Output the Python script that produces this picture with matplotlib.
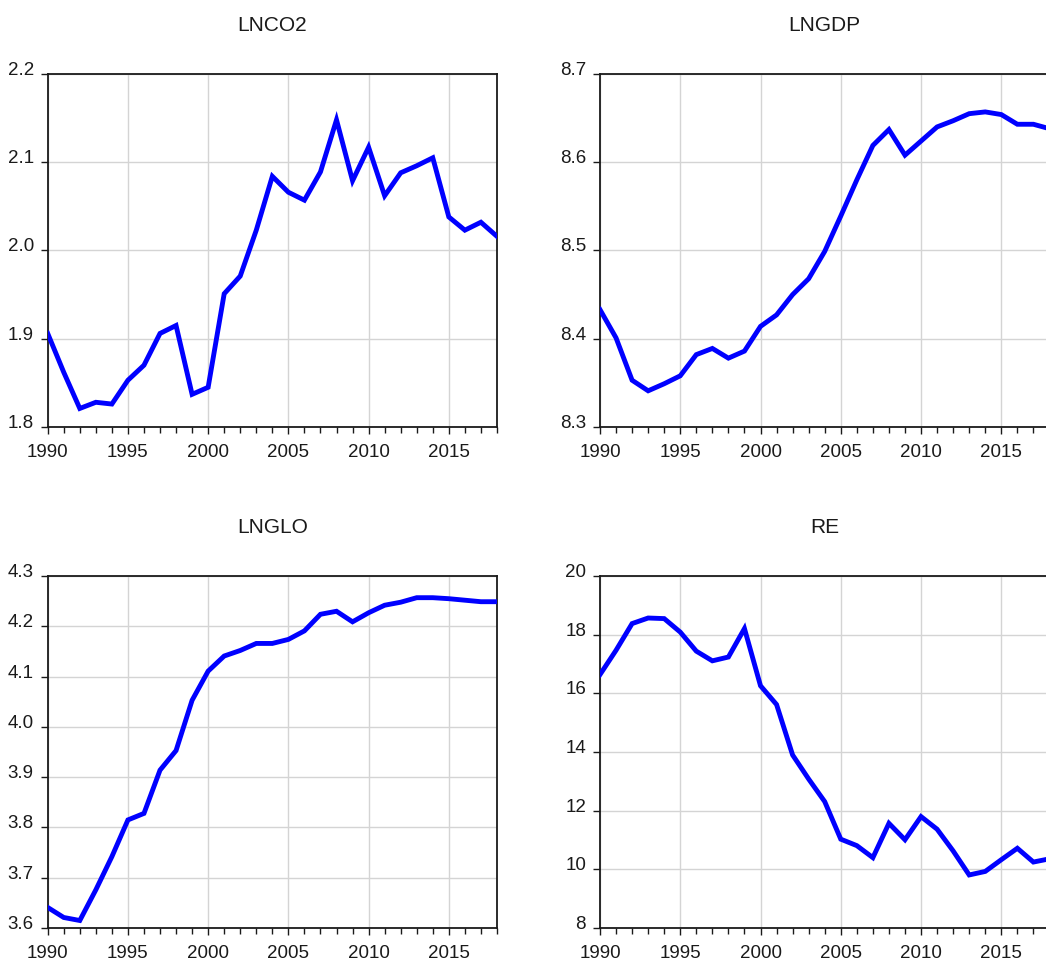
import matplotlib
matplotlib.use("Agg")
from matplotlib import pyplot as plt
from matplotlib.ticker import MultipleLocator
import matplotlib.transforms as mtransforms
import numpy as np

plt.rcParams['font.family'] = ['Liberation Sans', 'DejaVu Sans']

years = np.arange(1990, 2019)

lnco2 = [1.906, 1.862, 1.821, 1.828, 1.826, 1.853, 1.870, 1.906, 1.915, 1.837,
         1.845, 1.951, 1.971, 2.023, 2.084, 2.066, 2.057, 2.089, 2.148, 2.079,
         2.117, 2.062, 2.088, 2.096, 2.105, 2.038, 2.023, 2.032, 2.016]
lngdp = [8.433, 8.401, 8.353, 8.341, 8.349, 8.358, 8.382, 8.389, 8.378, 8.386,
         8.414, 8.427, 8.450, 8.468, 8.499, 8.539, 8.580, 8.619, 8.637, 8.608,
         8.624, 8.640, 8.647, 8.655, 8.657, 8.654, 8.643, 8.643, 8.638]
lnglo = [3.641, 3.621, 3.615, 3.676, 3.742, 3.815, 3.828, 3.914, 3.953, 4.053,
         4.111, 4.141, 4.152, 4.166, 4.166, 4.174, 4.191, 4.224, 4.230, 4.209,
         4.227, 4.242, 4.248, 4.257, 4.257, 4.255, 4.252, 4.249, 4.249]
re = [16.64, 17.47, 18.38, 18.57, 18.55, 18.09, 17.44, 17.11, 17.24, 18.21,
      16.26, 15.62, 13.90, 13.08, 12.31, 11.03, 10.81, 10.40, 11.57, 11.01,
      11.80, 11.37, 10.63, 9.81, 9.93, 10.33, 10.72, 10.25, 10.36]

panels = [
    ("LNCO2", lnco2, [1.8, 1.9, 2.0, 2.1, 2.2], "%.1f"),
    ("LNGDP", lngdp, [8.3, 8.4, 8.5, 8.6, 8.7], "%.1f"),
    ("LNGLO", lnglo, [3.6, 3.7, 3.8, 3.9, 4.0, 4.1, 4.2, 4.3], "%.1f"),
    ("RE", re, [8, 10, 12, 14, 16, 18, 20], "%d"),
]

# axes positions in figure fractions (left, bottom, width, height)
# the right column runs a little past the figure edge, like the original
positions = [
    [0.0456, 0.5566, 0.4295, 0.3666],
    [0.5736, 0.5566, 0.4297, 0.3666],
    [0.0456, 0.0363, 0.4295, 0.3655],
    [0.5736, 0.0363, 0.4297, 0.3655],
]

fig = plt.figure(figsize=(10.46, 9.63), dpi=100)

for (name, vals, yticks, fmt), pos in zip(panels, positions):
    ax = fig.add_axes(pos)
    ax.plot(years, vals, color='#0000FF', lw=3.5, solid_joinstyle='miter', zorder=3)
    ax.set_xlim(1990, 2018)
    ax.set_ylim(yticks[0], yticks[-1])
    ax.set_yticks(yticks)
    ax.set_yticklabels([fmt % t for t in yticks])
    ax.set_xticks(np.arange(1990, 2016, 5))
    ax.xaxis.set_minor_locator(MultipleLocator(1))
    ax.grid(True, which='major', color='#d4d4d4', lw=1.0, zorder=0)
    ax.set_axisbelow(True)
    for s in ax.spines.values():
        s.set_linewidth(1.3)
        s.set_color('#1a1a1a')
    ax.tick_params(axis='y', length=5, width=1.0, pad=5, labelsize=13.5, colors='#1a1a1a')
    ax.tick_params(axis='x', which='major', length=5, width=1.0, pad=7, labelsize=13.5, colors='#1a1a1a')
    ax.tick_params(axis='x', which='minor', length=4, width=1.0, colors='#1a1a1a')
    # y labels sit a bit above their tick
    offset = mtransforms.ScaledTranslation(0, 4 / 72, fig.dpi_scale_trans)
    for lab in ax.get_yticklabels():
        lab.set_transform(lab.get_transform() + offset)
    ax.set_title(name, fontsize=15, pad=31, color='#1a1a1a')

fig.savefig("out.png", dpi=100)
